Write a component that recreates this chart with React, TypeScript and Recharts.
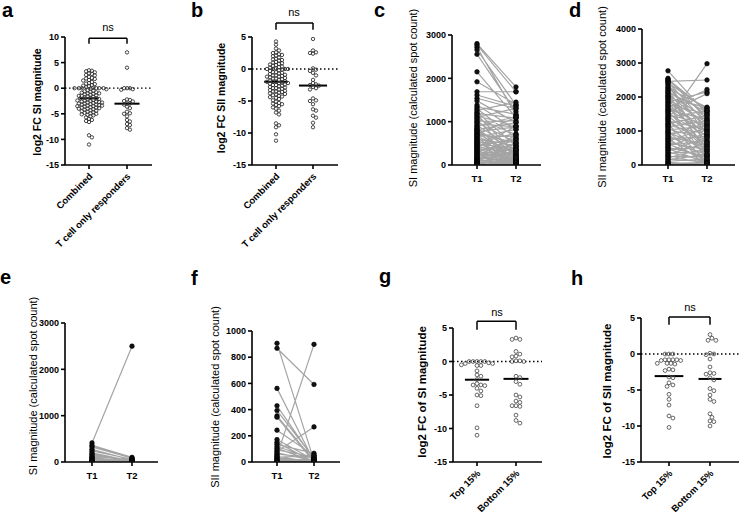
import React from "react";
import { ComposedChart, Line, ReferenceLine, Scatter, XAxis, YAxis } from "recharts";

const FONT = "'Liberation Sans', Arial, Helvetica, sans-serif";

// ---- panel a: log2 FC SI magnitude
const A_LABELS = ["Combined", "T cell only responders"];
const A_COMBINED = [
  3.5, 3.4, 3.3, 3.1, 2.9, 2.8, 2.6, 2.5, 2.2, 2.0, 1.9, 1.8, 1.6, 1.5, 1.2, 1.0, 0.9, 0.8, 0.6,
  0.5, 0.4, 0.2, 0.1, 0, 0, 0, 0, 0, 0, -0.1, -0.2, -0.4, -0.5, -0.6, -0.7, -0.8, -0.9, -1.0,
  -1.0, -1.1, -1.2, -1.3, -1.4, -1.5, -1.5, -1.6, -1.7, -1.8, -1.9, -2.0, -2.0, -2.1, -2.2, -2.3,
  -2.4, -2.4, -2.5, -2.6, -2.6, -2.7, -2.8, -2.8, -2.9, -3.0, -3.0, -3.1, -3.2, -3.2, -3.3, -3.4,
  -3.4, -3.5, -3.5, -3.6, -3.7, -3.8, -3.8, -3.9, -4.0, -4.0, -4.1, -4.2, -4.3, -4.4, -4.5, -4.6,
  -4.7, -4.8, -4.9, -5.0, -5.1, -5.2, -5.3, -5.5, -5.7, -6.0, -6.2, -6.4, -6.6, -9.2, -9.6, -11.0,
];
const A_TCELL = [
  7.0, 4.0, -0.3, 0, 0, 0, -0.2, -2.3, -2.2, -2.5, -2.6, -3.0, -3.0, -3.2, -3.6, -3.9, -4.6, -4.9,
  -5.0, -5.5, -6.2, -6.5, -7.0, -7.2, -7.8, -8.1,
];
const A_TICKS = [-15, -10, -5, 0, 5, 10];

// ---- panel b: log2 FC SII magnitude
const B_LABELS = ["Combined", "T cell only responders"];
const B_COMBINED = [
  4.3, 3.8, 3.2, 2.9, 2.6, 2.5, 2.3, 2.2, 2.1, 2.0, 1.8, 1.6, 1.5, 1.4, 1.3, 1.1, 1.0, 0.9, 0.8,
  0.7, 0.6, 0.5, 0.4, 0.3, 0.2, 0.1, 0, 0, 0, 0, -0.1, -0.2, -0.3, -0.5, -0.5, -0.6, -0.7, -0.8,
  -0.9, -1.0, -1.0, -1.1, -1.2, -1.2, -1.3, -1.4, -1.5, -1.5, -1.6, -1.7, -1.8, -1.9, -2.0, -2.0,
  -2.0, -2.1, -2.2, -2.2, -2.3, -2.4, -2.5, -2.5, -2.6, -2.7, -2.8, -2.9, -3.0, -3.0, -3.1, -3.2,
  -3.3, -3.4, -3.5, -3.5, -3.6, -3.7, -3.8, -3.9, -4.0, -4.1, -4.2, -4.3, -4.4, -4.5, -4.7, -4.9,
  -5.1, -5.3, -5.4, -5.5, -5.6, -5.8, -6.0, -6.2, -6.5, -6.8, -7.1, -8.5, -8.8, -9.1, -10.2, -11.2,
];
const B_TCELL = [
  4.7, 2.9, 2.6, 2.5, 2.4, 0.1, -0.1, -0.3, -0.6, -1.0, -1.7, -2.2, -2.4, -2.5, -2.6, -2.8, -3.0,
  -3.2, -4.6, -4.9, -5.0, -5.5, -6.3, -6.5, -7.3, -7.6, -8.4, -9.1,
];
const B_TICKS = [-15, -10, -5, 0, 5];

// ---- panel c: SI magnitude, paired T1 -> T2
const PAIR_LABELS = ["T1", "T2"];
const C_T1 = [
  2800, 2770, 2720, 2660, 2555, 2150, 1920, 1690, 1615, 1540, 1480, 1385, 1340, 1300, 1260, 1220,
  1190, 1160, 1130, 1100, 1070, 1040, 1010, 980, 950, 920, 890, 860, 846, 812, 805, 783, 770, 741,
  733, 702, 695, 676, 652, 640, 611, 598, 584, 566, 548, 521, 515, 497, 470, 462, 441, 428, 405,
  398, 376, 360, 342, 331, 305, 298, 276, 262, 241, 233, 207, 198, 176, 160, 148, 133, 117, 104,
  92, 80, 66, 58, 47, 35, 28, 17, 9, 4, 0,
];
const C_T2 = [
  1800, 1690, 1150, 1380, 1230, 1100, 1400, 1690, 1350, 1300, 980, 820, 1170, 620, 1450, 430,
  1080, 240, 900, 1310, 700, 160, 1020, 520, 880, 350, 1120, 60, 120, 980, 350, 60, 880, 500, 230,
  1100, 40, 660, 310, 820, 150, 450, 20, 720, 280, 90, 560, 180, 400, 50, 610, 240, 130, 900, 70,
  330, 470, 10, 210, 580, 140, 30, 380, 100, 260, 690, 60, 170, 420, 25, 300, 80, 510, 15, 200,
  45, 110, 350, 5, 160, 30, 70, 0,
];
const C_TICKS = [0, 1000, 2000, 3000];

// ---- panel d: SII magnitude, paired T1 -> T2
const D_T1 = [
  2770, 2550, 2520, 2490, 2460, 2440, 2410, 2380, 2330, 2290, 2250, 2210, 2180, 2150, 2120, 2090,
  2050, 2020, 1990, 1950, 1920, 1880, 1850, 1820, 1780, 1750, 1710, 1680, 1640, 1610, 1580, 1540,
  1510, 1470, 1440, 1400, 1370, 1340, 1300, 1270, 1230, 1200, 1170, 1130, 1100, 1060, 1030, 990,
  960, 930, 890, 860, 820, 790, 760, 720, 690, 650, 620, 590, 550, 520, 480, 450, 420, 380, 350,
  310, 280, 250, 210, 180, 150, 110, 80, 50, 20, 0,
];
const D_T2 = [
  1500, 1350, 1600, 1580, 2500, 1200, 1650, 900, 1450, 1050, 1700, 600, 1300, 1550, 300, 1150,
  1400, 800, 1680, 450, 1250, 1000, 2150, 700, 1500, 150, 1100, 2220, 950, 1350, 400, 2100, 850,
  1200, 550, 1600, 250, 2980, 1050, 650, 1450, 100, 900, 1300, 350, 750, 1150, 50, 500, 1000, 200,
  1250, 600, 20, 850, 300, 1100, 450, 150, 700, 950, 250, 60, 550, 800, 120, 400, 650, 30, 250,
  500, 90, 320, 180, 10, 70, 0, 40,
];
const D_TICKS = [0, 1000, 2000, 3000, 4000];

// ---- panel e: SI magnitude, paired T1 -> T2
const E_T1 = [412, 360, 325, 275, 240, 200, 170, 150, 120, 100, 85, 70, 55, 40, 30, 20, 10, 0];
const E_T2 = [2500, 100, 80, 40, 60, 20, 30, 10, 50, 0, 15, 5, 25, 0, 10, 0, 5, 0];
const E_TICKS = [0, 1000, 2000, 3000];

// ---- panel f: SII magnitude, paired T1 -> T2
const F_T1 = [
  906, 868, 562, 429, 393, 352, 342, 243, 171, 150, 135, 118, 104, 92, 80, 70, 60, 50, 42, 35, 28,
  20, 14, 8, 3, 0,
];
const F_T2 = [
  10, 592, 5, 20, 30, 10, 0, 50, 15, 0, 66, 25, 5, 40, 268, 10, 33, 898, 0, 51, 13, 0, 20, 0, 5, 0,
];
const F_TICKS = [0, 200, 400, 600, 800, 1000];

// ---- panel g: log2 FC of SI magnitude
const GH_LABELS = ["Top 15%", "Bottom 15%"];
const G_TOP = [
  0, 0, 0, 0, 0, -0.2, -0.3, -0.3, -0.5, -0.6, -0.6, -1.4, -2.0, -2.2, -2.7, -3.3, -3.5, -3.5,
  -3.6, -4.0, -4.4, -5.0, -5.1, -6.6, -9.9, -11.0,
];
const G_BOTTOM = [
  3.5, 3.3, 3.3, 1.5, 1.1, 0.8, 0.7, 0.1, 0.1, 0, 0, -2.2, -2.4, -3.0, -3.4, -5.0, -5.3, -5.9,
  -6.1, -6.6, -6.6, -6.7, -8.0, -8.8, -9.2,
];

// ---- panel h: log2 FC of SII magnitude
const H_TOP = [
  0, 0, 0, -0.8, -0.8, -0.9, -0.8, -0.9, -0.8, -1.3, -1.3, -1.4, -1.3, -2.3, -2.2, -2.1, -3.2,
  -3.3, -4.0, -4.3, -4.5, -5.6, -6.3, -7.1, -8.6, -8.9, -10.2,
];
const H_BOTTOM = [
  2.7, 2.2, 1.9, 1.9, 0.1, 0, -0.1, -0.7, -1.8, -2.6, -2.7, -2.8, -3.3, -3.6, -4.8, -5.1, -5.7,
  -6.3, -6.6, -8.3, -8.8, -9.4, -9.3, -10.0,
];
const GH_TICKS = [-15, -10, -5, 0, 5];

// ---- layout
type Frame = { left: number; right: number; top: number; bottom: number; cat1: number; cat2: number };
const FRAMES: Record<string, Frame> = {
  a: { left: 65, right: 152, top: 37, bottom: 165, cat1: 89, cat2: 127 },
  b: { left: 252, right: 338, top: 37, bottom: 165, cat1: 276, cat2: 313 },
  c: { left: 452, right: 541, top: 35, bottom: 165, cat1: 477, cat2: 516 },
  d: { left: 642, right: 735, top: 29, bottom: 165, cat1: 668, cat2: 707 },
  e: { left: 65, right: 158, top: 323, bottom: 462, cat1: 92, cat2: 132 },
  f: { left: 252, right: 340, top: 331, bottom: 462, cat1: 277, cat2: 314 },
  g: { left: 453, right: 542, top: 328, bottom: 462, cat1: 477, cat2: 516 },
  h: { left: 641, right: 739, top: 318, bottom: 462, cat1: 669, cat2: 710 },
};

const Y_W = 44;
const M_TOP = 32;
const M_RIGHT = 6;
const X_H = 90;
const AXIS = { stroke: "#000", strokeWidth: 1.6 };
const YTICK = { fontSize: 9, fontWeight: 700, fill: "#000", fontFamily: FONT };

function mean(values: number[]) {
  return values.reduce((s, v) => s + v, 0) / values.length;
}

// simple beeswarm: place each dot at the nearest free horizontal offset
function swarm(values: number[], center: number, kx: number, ky: number, d: number) {
  const placed: { px: number; py: number }[] = [];
  const out: { x: number; y: number }[] = [];
  const order = [...values].sort((p, q) => q - p);
  for (const v of order) {
    const py = v * ky;
    let px = 0;
    for (let k = 0; k < 80; k++) {
      const step = Math.ceil(k / 2) * d * 0.5 * (k % 2 === 1 ? 1 : -1);
      if (placed.every((p) => Math.hypot(p.px - step, p.py - py) >= d)) {
        px = step;
        break;
      }
    }
    placed.push({ px, py });
    out.push({ x: center + px / kx, y: v });
  }
  return out;
}

function geometry(frame: Frame, yDomain: number[]) {
  const plotW = frame.right - frame.left;
  const plotH = frame.bottom - frame.top;
  const kx = frame.cat2 - frame.cat1;
  const ky = plotH / (yDomain[1] - yDomain[0]);
  const xDomain = [1 - (frame.cat1 - frame.left) / kx, 2 + (frame.right - frame.cat2) / kx];
  return { plotW, plotH, kx, ky, xDomain };
}

function CatTick(props: any) {
  const { x, y, payload, labels, rotated } = props;
  const label = labels[Math.round(payload.value) - 1];
  if (rotated) {
    return (
      <text
        transform={`translate(${x + 4},${y + 6}) rotate(-45)`}
        textAnchor="end"
        fontSize={9.5}
        fontWeight={700}
        fontFamily={FONT}
        fill="#000"
      >
        {label}
      </text>
    );
  }
  return (
    <text x={x} y={y + 10.5} textAnchor="middle" fontSize={9.5} fontWeight={700} fontFamily={FONT} fill="#000">
      {label}
    </text>
  );
}

type SwarmProps = {
  frame: Frame;
  yTicks: number[];
  groups: number[][];
  labels: string[];
  bracket: [number, number];
  r: number;
  gap: number;
  stroke: string;
  meanHalf: number[];
};

function SwarmPanel({ frame, yTicks, groups, labels, bracket, r, gap, stroke, meanHalf }: SwarmProps) {
  const yDomain = [yTicks[0], yTicks[yTicks.length - 1]];
  const { plotW, plotH, kx, ky, xDomain } = geometry(frame, yDomain);
  const points = groups.map((vals, i) => swarm(vals, i + 1, kx, ky, gap));
  const means = groups.map(mean);
  const [top, leg] = bracket;
  return (
    <div style={{ position: "absolute", left: frame.left - Y_W, top: frame.top - M_TOP }}>
      <ComposedChart
        width={Y_W + plotW + M_RIGHT}
        height={M_TOP + plotH + X_H}
        margin={{ top: M_TOP, right: M_RIGHT, bottom: 0, left: 0 }}
      >
        <XAxis
          type="number"
          dataKey="x"
          domain={xDomain}
          ticks={[1, 2]}
          allowDataOverflow
          height={X_H}
          axisLine={AXIS}
          tickLine={AXIS}
          tickSize={4}
          interval={0}
          tick={<CatTick labels={labels} rotated />}
        />
        <YAxis
          type="number"
          dataKey="y"
          domain={yDomain}
          ticks={yTicks}
          allowDataOverflow
          width={Y_W}
          axisLine={AXIS}
          tickLine={AXIS}
          tickSize={4}
          interval={0}
          tick={YTICK}
        />
        <ReferenceLine y={0} stroke="#000" strokeWidth={1.3} strokeDasharray="1.5 2.5" />
        {points.map((pts, i) => (
          <Scatter
            key={`s${i}`}
            data={pts}
            isAnimationActive={false}
            shape={(p: any) => <circle cx={p.cx} cy={p.cy} r={r} fill="none" stroke={stroke} strokeWidth={0.9} />}
          />
        ))}
        {means.map((m, i) => (
          <ReferenceLine
            key={`m${i}`}
            segment={[
              { x: i + 1 - meanHalf[i], y: m },
              { x: i + 1 + meanHalf[i], y: m },
            ]}
            stroke="#000"
            strokeWidth={2}
          />
        ))}
        <ReferenceLine segment={[{ x: 1, y: top }, { x: 2, y: top }]} ifOverflow="visible" stroke="#000" strokeWidth={1.5} />
        <ReferenceLine segment={[{ x: 1, y: top }, { x: 1, y: leg }]} ifOverflow="visible" stroke="#000" strokeWidth={1.5} />
        <ReferenceLine segment={[{ x: 2, y: top }, { x: 2, y: leg }]} ifOverflow="visible" stroke="#000" strokeWidth={1.5} />
      </ComposedChart>
    </div>
  );
}

type PairProps = { frame: Frame; yTicks: number[]; t1: number[]; t2: number[] };

function PairPanel({ frame, yTicks, t1, t2 }: PairProps) {
  const yDomain = [yTicks[0], yTicks[yTicks.length - 1]];
  const { plotW, plotH, xDomain } = geometry(frame, yDomain);
  const segments = t1.flatMap((v, i) => [
    { x: 1, y: v },
    { x: 2, y: t2[i] },
    { x: 1.5, y: null },
  ]);
  const dots = [...t1.map((v) => ({ x: 1, y: v })), ...t2.map((v) => ({ x: 2, y: v }))];
  return (
    <div style={{ position: "absolute", left: frame.left - Y_W, top: frame.top - M_TOP }}>
      <ComposedChart
        width={Y_W + plotW + M_RIGHT}
        height={M_TOP + plotH + X_H}
        margin={{ top: M_TOP, right: M_RIGHT, bottom: 0, left: 0 }}
      >
        <XAxis
          type="number"
          dataKey="x"
          domain={xDomain}
          ticks={[1, 2]}
          allowDataOverflow
          height={X_H}
          axisLine={AXIS}
          tickLine={AXIS}
          tickSize={4}
          interval={0}
          tick={<CatTick labels={PAIR_LABELS} />}
        />
        <YAxis
          type="number"
          dataKey="y"
          domain={yDomain}
          ticks={yTicks}
          allowDataOverflow
          width={Y_W}
          axisLine={AXIS}
          tickLine={AXIS}
          tickSize={4}
          interval={0}
          tick={YTICK}
        />
        <Line
          data={segments}
          dataKey="y"
          type="linear"
          stroke="#a4a4a4"
          strokeWidth={1.2}
          dot={false}
          activeDot={false}
          connectNulls={false}
          isAnimationActive={false}
        />
        <Scatter
          data={dots}
          isAnimationActive={false}
          shape={(p: any) => <circle cx={p.cx} cy={p.cy} r={2.3} fill="#111" stroke="#000" strokeWidth={0.6} />}
        />
      </ComposedChart>
    </div>
  );
}

const LETTERS: [string, number, number][] = [
  ["a", 2, 17],
  ["b", 191, 17],
  ["c", 374, 17],
  ["d", 569, 17],
  ["e", 0, 284],
  ["f", 191, 285],
  ["g", 379, 283],
  ["h", 571, 285],
];

const Y_LABELS: [string, number, number, number, number][] = [
  ["log2 FC SI magnitude", 37, 102, 10.5, 700],
  ["log2 FC SII magnitude", 221, 98, 10.5, 700],
  ["SI magnitude (calculated spot count)", 413, 98, 11, 400],
  ["SII magnitude (calculated spot count)", 602, 97, 11, 400],
  ["SI magnitude (calculated spot count)", 33, 386, 11, 400],
  ["SII magnitude (calculated spot count)", 215, 397, 11, 400],
  ["log2 FC of SI magnitude", 422, 392, 11.5, 700],
  ["log2 FC of SII magnitude", 607, 391, 11.5, 700],
];

const NS_MARKS: [number, number][] = [
  [108, 31],
  [294, 16],
  [497, 316],
  [690, 311],
];

export default function App() {
  return (
    <div
      style={{
        position: "absolute",
        left: 0,
        top: 0,
        width: 739,
        height: 522,
        overflow: "hidden",
        background: "#fff",
        fontFamily: FONT,
      }}
    >
      <SwarmPanel
        frame={FRAMES.a}
        yTicks={A_TICKS}
        groups={[A_COMBINED, A_TCELL]}
        labels={A_LABELS}
        bracket={[9.75, 8.7]}
        r={1.7}
        gap={2.9}
        stroke="#333"
        meanHalf={[0.25, 0.33]}
      />
      <SwarmPanel
        frame={FRAMES.b}
        yTicks={B_TICKS}
        groups={[B_COMBINED, B_TCELL]}
        labels={B_LABELS}
        bracket={[7.2, 6.15]}
        r={1.7}
        gap={3.0}
        stroke="#333"
        meanHalf={[0.32, 0.38]}
      />
      <PairPanel frame={FRAMES.c} yTicks={C_TICKS} t1={C_T1} t2={C_T2} />
      <PairPanel frame={FRAMES.d} yTicks={D_TICKS} t1={D_T1} t2={D_T2} />
      <PairPanel frame={FRAMES.e} yTicks={E_TICKS} t1={E_T1} t2={E_T2} />
      <PairPanel frame={FRAMES.f} yTicks={F_TICKS} t1={F_T1} t2={F_T2} />
      <SwarmPanel
        frame={FRAMES.g}
        yTicks={GH_TICKS}
        groups={[G_TOP, G_BOTTOM]}
        labels={GH_LABELS}
        bracket={[6.0, 4.75]}
        r={1.9}
        gap={3.9}
        stroke="#555"
        meanHalf={[0.31, 0.32]}
      />
      <SwarmPanel
        frame={FRAMES.h}
        yTicks={GH_TICKS}
        groups={[H_TOP, H_BOTTOM]}
        labels={GH_LABELS}
        bracket={[5.15, 4.07]}
        r={1.9}
        gap={3.9}
        stroke="#555"
        meanHalf={[0.35, 0.28]}
      />
      <svg
        width={739}
        height={522}
        style={{ position: "absolute", left: 0, top: 0, pointerEvents: "none" }}
        fontFamily={FONT}
      >
        {LETTERS.map(([t, x, y]) => (
          <text key={t} x={x} y={y} fontSize={20} fontWeight={700} fill="#000">
            {t}
          </text>
        ))}
        {Y_LABELS.map(([t, x, y, size, weight], i) => (
          <text
            key={`y${i}`}
            transform={`translate(${x},${y}) rotate(-90)`}
            textAnchor="middle"
            dominantBaseline="central"
            fontSize={size}
            fontWeight={weight}
            fill="#000"
          >
            {t}
          </text>
        ))}
        {NS_MARKS.map(([x, y], i) => (
          <text key={`ns${i}`} x={x} y={y} textAnchor="middle" fontSize={11} fill="#000">
            ns
          </text>
        ))}
      </svg>
    </div>
  );
}
